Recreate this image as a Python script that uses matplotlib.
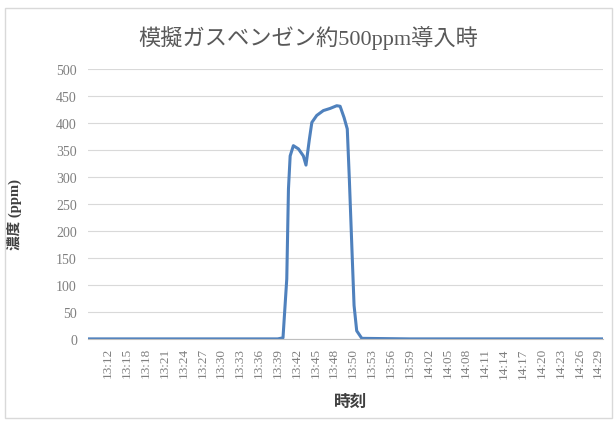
import matplotlib.pyplot as plt
from matplotlib.patches import Rectangle

plt.rcParams['font.family'] = ['Liberation Serif', 'Noto Sans CJK JP', 'DejaVu Sans']

# time labels shown on the category axis
time_labels = ['13:12', '13:15', '13:18', '13:21', '13:24', '13:27', '13:30',
               '13:33', '13:36', '13:39', '13:42', '13:45', '13:48', '13:50',
               '13:53', '13:56', '13:59', '14:02', '14:05', '14:08', '14:11',
               '14:14', '14:17', '14:20', '14:23', '14:26', '14:29']

# position along the category axis (1.0 = one label step) and concentration
pos = [-1.06, 0.0, 3.0, 6.0, 9.0, 9.28, 9.48, 9.57, 9.66, 9.83, 10.10, 10.36,
       10.50, 10.68, 10.81, 11.07, 11.42, 11.78, 12.13, 12.31, 12.52, 12.69,
       12.80, 12.93, 13.05, 13.19, 13.46, 16.0, 20.0, 24.0, 26.26]
ppm = [0, 0, 0, 0, 0, 2, 111, 278, 339, 358, 352, 339,
       322, 370, 401, 414, 423, 427, 432, 431, 410, 389,
       296, 173, 62, 15, 1, 0, 0, 0, 0]

fig = plt.figure(figsize=(6.16, 4.27), dpi=100)
fig.patches.append(Rectangle((0.008, 0.018), 0.985, 0.962, transform=fig.transFigure,
                             fill=False, edgecolor='#d9d9d9', linewidth=1.0))
ax = fig.add_axes([0.143, 0.204, 0.836, 0.632])

ax.plot(pos, ppm, color='#4f81bd', linewidth=2.2, solid_joinstyle='round')

ax.set_xlim(-1.06, 26.26)
ax.set_ylim(0, 500)
ax.set_yticks(range(0, 501, 50))
ax.set_xticks(range(len(time_labels)))
ax.set_xticklabels(time_labels, rotation=90, fontsize=9.5, color='#7f7f7f')
ax.tick_params(axis='y', labelsize=10, labelcolor='#7f7f7f', length=0, pad=8)
ax.tick_params(axis='x', length=0, pad=6)
ax.yaxis.grid(True, color='#d9d9d9', linewidth=0.8)
ax.set_axisbelow(True)
for side in ['top', 'right', 'left']:
    ax.spines[side].set_visible(False)
ax.spines['bottom'].set_color('#bfbfbf')

fig.text(0.5, 0.911, '模擬ガスベンゼン約500ppm導入時', fontsize=16, color='#595959',
         ha='center', va='center')
ax.set_ylabel('濃度 (ppm)', fontsize=10.5, color='#404040', fontweight='bold')
ax.yaxis.set_label_coords(-0.128, 0.463)
ax.set_xlabel('時刻', fontsize=12, color='#404040', fontweight='bold')
ax.xaxis.set_label_coords(0.509, -0.204)

plt.savefig('out.png', dpi=100)
